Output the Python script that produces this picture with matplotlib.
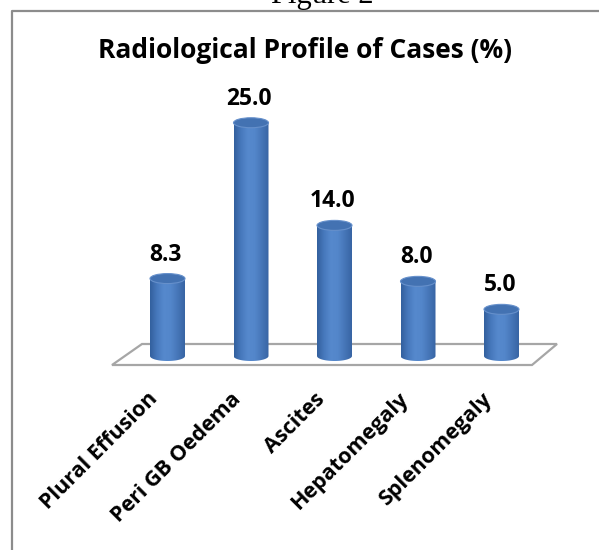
import numpy as np
import matplotlib
matplotlib.use("Agg")
import matplotlib.pyplot as plt
from matplotlib.patches import Ellipse, Polygon, PathPatch
from matplotlib.path import Path
from matplotlib.colors import LinearSegmentedColormap
from matplotlib.lines import Line2D

categories = ["Plural Effusion", "Peri GB Oedema", "Ascites", "Hepatomegaly", "Splenomegaly"]
values = [8.3, 25.0, 14.0, 8.0, 5.0]
value_labels = ["8.3", "25.0", "14.0", "8.0", "5.0"]
title = "Radiological Profile of Cases (%)"

W, H = 599, 550
fig = plt.figure(figsize=(W / 100, H / 100), dpi=100)
ax = fig.add_axes([0, 0, 1, 1])
ax.set_axis_off()

# pixel mapping: category i -> x px, value v -> y px (from top)
x0px, dxpx = 167.5, 83.5
y0px, dypx = 356.0, 9.33
xlim = ((0 - x0px) / dxpx, (W - x0px) / dxpx)
ylim = ((y0px - H) / dypx, y0px / dypx)


def px(x, y):
    return (x - x0px) / dxpx, (y0px - y) / dypx


bar_w = 35 / dxpx
ell_h = 10 / dypx
font = "Open Sans"

# floor
fl = [px(112, 365), px(142, 344), px(557, 344), px(532, 365)]
ax.add_patch(Polygon(fl, closed=True, facecolor="white", edgecolor="#A6A6A6", lw=1.6, zorder=1))

cmap = LinearSegmentedColormap.from_list(
    "cyl", ["#33609E", "#4779BD", "#5689CD", "#5386CA", "#4676B8", "#3865A4"])
grad = np.linspace(0, 1, 64).reshape(1, -1)

for i, v in enumerate(values):
    xa, xb = i - bar_w / 2, i + bar_w / 2
    t = np.linspace(np.pi, 2 * np.pi, 40)
    ex = i + bar_w / 2 * np.cos(t)
    ey = ell_h / 2 * np.sin(t)
    verts = [(xa, v)] + list(zip(ex, ey)) + [(xb, v), (xa, v)]
    body = PathPatch(Path(verts, closed=True), facecolor="none", edgecolor="none", zorder=3)
    ax.add_patch(body)
    im = ax.imshow(grad, cmap=cmap, extent=[xa, xb, -ell_h / 2, v], aspect="auto",
                   interpolation="bilinear", zorder=3)
    im.set_clip_path(body)
    ax.add_patch(Ellipse((i, v), bar_w, ell_h, facecolor="#4372B2", edgecolor="#6690CB",
                         lw=0.8, zorder=4))
    ax.text(i - 0.02, v + 24 / dypx, value_labels[i], ha="center", va="center",
            fontsize=16.5, fontweight="bold", family=font, color="black", zorder=5)
    ax.text(i - 9 / dxpx, (y0px - 400) / dypx, categories[i], rotation=45,
            rotation_mode="anchor", ha="right", va="baseline",
            fontsize=15.5, fontweight="bold", family=font, color="black", zorder=5)

ax.set_xlim(*xlim)
ax.set_ylim(*ylim)

fig.text(305.5 / W, 1 - 58 / H, title, ha="center", va="baseline",
         fontsize=19, fontweight="bold", family=font)
fig.text(322 / W, 1 - 3 / H, "Figure 2", ha="center", va="baseline",
         fontsize=22, family="Liberation Serif")

# frame (left and top edges visible)
fig.add_artist(Line2D([12 / W, 12 / W, 1.0], [0, 1 - 11 / H, 1 - 11 / H],
                      color="#8C8C8C", lw=1.6, transform=fig.transFigure))

fig.savefig("out.png", dpi=100)
